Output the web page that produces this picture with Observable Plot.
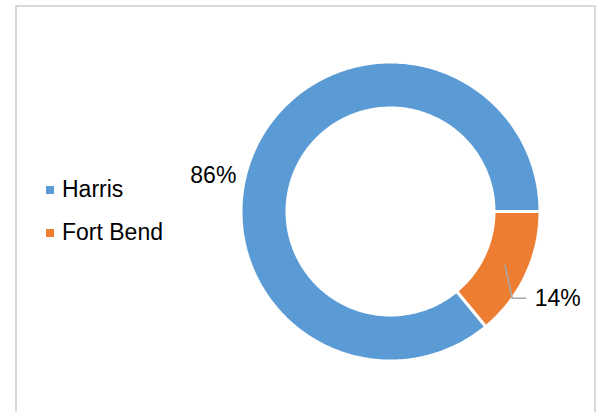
<!DOCTYPE html>
<html>
<head>
<meta charset="utf-8">
<script src="https://cdn.jsdelivr.net/npm/d3@7"></script>
<script src="https://cdn.jsdelivr.net/npm/@observablehq/plot@0.6"></script>
<style>
  html, body { margin: 0; padding: 0; background: #fff; overflow: hidden; }
  #wrap { position: relative; width: 597px; height: 412px; overflow: hidden; font-family: "Liberation Sans", Arial, sans-serif; }
  #frame { position: absolute; left: 15px; top: 5px; width: 581px; height: 430px; box-sizing: border-box;
           border: 2px solid #d9d9d9; border-bottom: none; }
  #chart { position: absolute; left: 0; top: 0; }
  .lg { position: absolute; left: 46px; font-size: 23px; line-height: 23px; color: #000; white-space: nowrap; }
  .sw { position: absolute; left: 0; width: 8px; height: 8px; }
  .lt { position: absolute; left: 16px; top: 0; }
</style>
</head>
<body>
<div id="wrap">
  <div id="frame"></div>
  <div id="chart"></div>
  <div id="legend"></div>
</div>
<script>
// ---- data ----
const categories = ["Harris", "Fort Bend"];
const values = [86, 14];
const valueLabels = ["86%", "14%"];
const colors = ["#5B9BD5", "#ED7D31"];

// ---- layout constants (pixels / unit space) ----
const CX = 390, CY = 211, RPX = 149.5;   // outer radius in px (incl. white stroke)
const INNER = 103.5 / 149.5;             // inner radius ratio

const total = d3.sum(values);
// slices laid out clockwise starting at 3 o'clock, last category first
const slices = [];
let a = 0;
for (let i = categories.length - 1; i >= 0; i--) {
  const a0 = a, a1 = a + 2 * Math.PI * values[i] / total;
  slices.push({cat: categories[i], a0, a1, i});
  a = a1;
}

const rows = [];
for (const s of slices) {
  const n = Math.max(2, Math.ceil((s.a1 - s.a0) * 180 / Math.PI));
  const pts = [];
  for (let k = 0; k <= n; k++) {
    const t = s.a0 + (s.a1 - s.a0) * k / n;
    pts.push([Math.cos(t), Math.sin(t)]);
  }
  for (let k = n; k >= 0; k--) {
    const t = s.a0 + (s.a1 - s.a0) * k / n;
    pts.push([INNER * Math.cos(t), INNER * Math.sin(t)]);
  }
  pts.push(pts[0]);
  for (const [x, y] of pts) rows.push({cat: s.cat, x, y});
}

// label for Fort Bend with leader line from the middle of its ring
const fb = slices.find(s => s.cat === "Fort Bend");
const fbMid = (fb.a0 + fb.a1) / 2;
const midR = (1 + INNER) / 2;
const leader = [
  {x: midR * Math.cos(fbMid), y: midR * Math.sin(fbMid)},
  {x: 0.814, y: 0.580},
  {x: 0.903, y: 0.580}
];
const fbLabel = [{x: 0.965, y: 0.585, text: valueLabels[1]}];

// label for Harris, placed outside on the left
const hAng = 191.4 * Math.PI / 180, hR = 1.209;
const hLabel = [{x: hR * Math.cos(hAng), y: hR * Math.sin(hAng), text: valueLabels[0]}];

const chart = Plot.plot({
  width: 597,
  height: 412,
  margin: 0,
  x: {domain: [-1, 1], range: [CX - RPX, CX + RPX], axis: null},
  y: {domain: [-1, 1], range: [CY - RPX, CY + RPX], axis: null},
  color: {domain: categories, range: colors},
  style: {fontFamily: '"Liberation Sans", Arial, sans-serif', background: "transparent", overflow: "visible"},
  marks: [
    Plot.line(rows, {x: "x", y: "y", z: "cat", fill: "cat", stroke: "white", strokeWidth: 3, strokeLinejoin: "miter", curve: "linear"}),
    Plot.line(leader, {x: "x", y: "y", stroke: "#a6a6a6", strokeWidth: 1.6}),
    Plot.text(fbLabel, {x: "x", y: "y", text: "text", textAnchor: "start", fontSize: 23, fill: "#000"}),
    Plot.text(hLabel, {x: "x", y: "y", text: "text", textAnchor: "middle", fontSize: 23, fill: "#000"})
  ]
});
document.getElementById("chart").appendChild(chart);

// legend
const legend = document.getElementById("legend");
const legendTops = [178, 221];
categories.forEach((c, i) => {
  const item = document.createElement("div");
  item.className = "lg";
  item.style.top = legendTops[i] + "px";
  const sw = document.createElement("span");
  sw.className = "sw";
  sw.style.background = colors[i];
  sw.style.top = "8px";
  const t = document.createElement("span");
  t.className = "lt";
  t.textContent = c;
  item.appendChild(sw);
  item.appendChild(t);
  legend.appendChild(item);
});
</script>
</body>
</html>
